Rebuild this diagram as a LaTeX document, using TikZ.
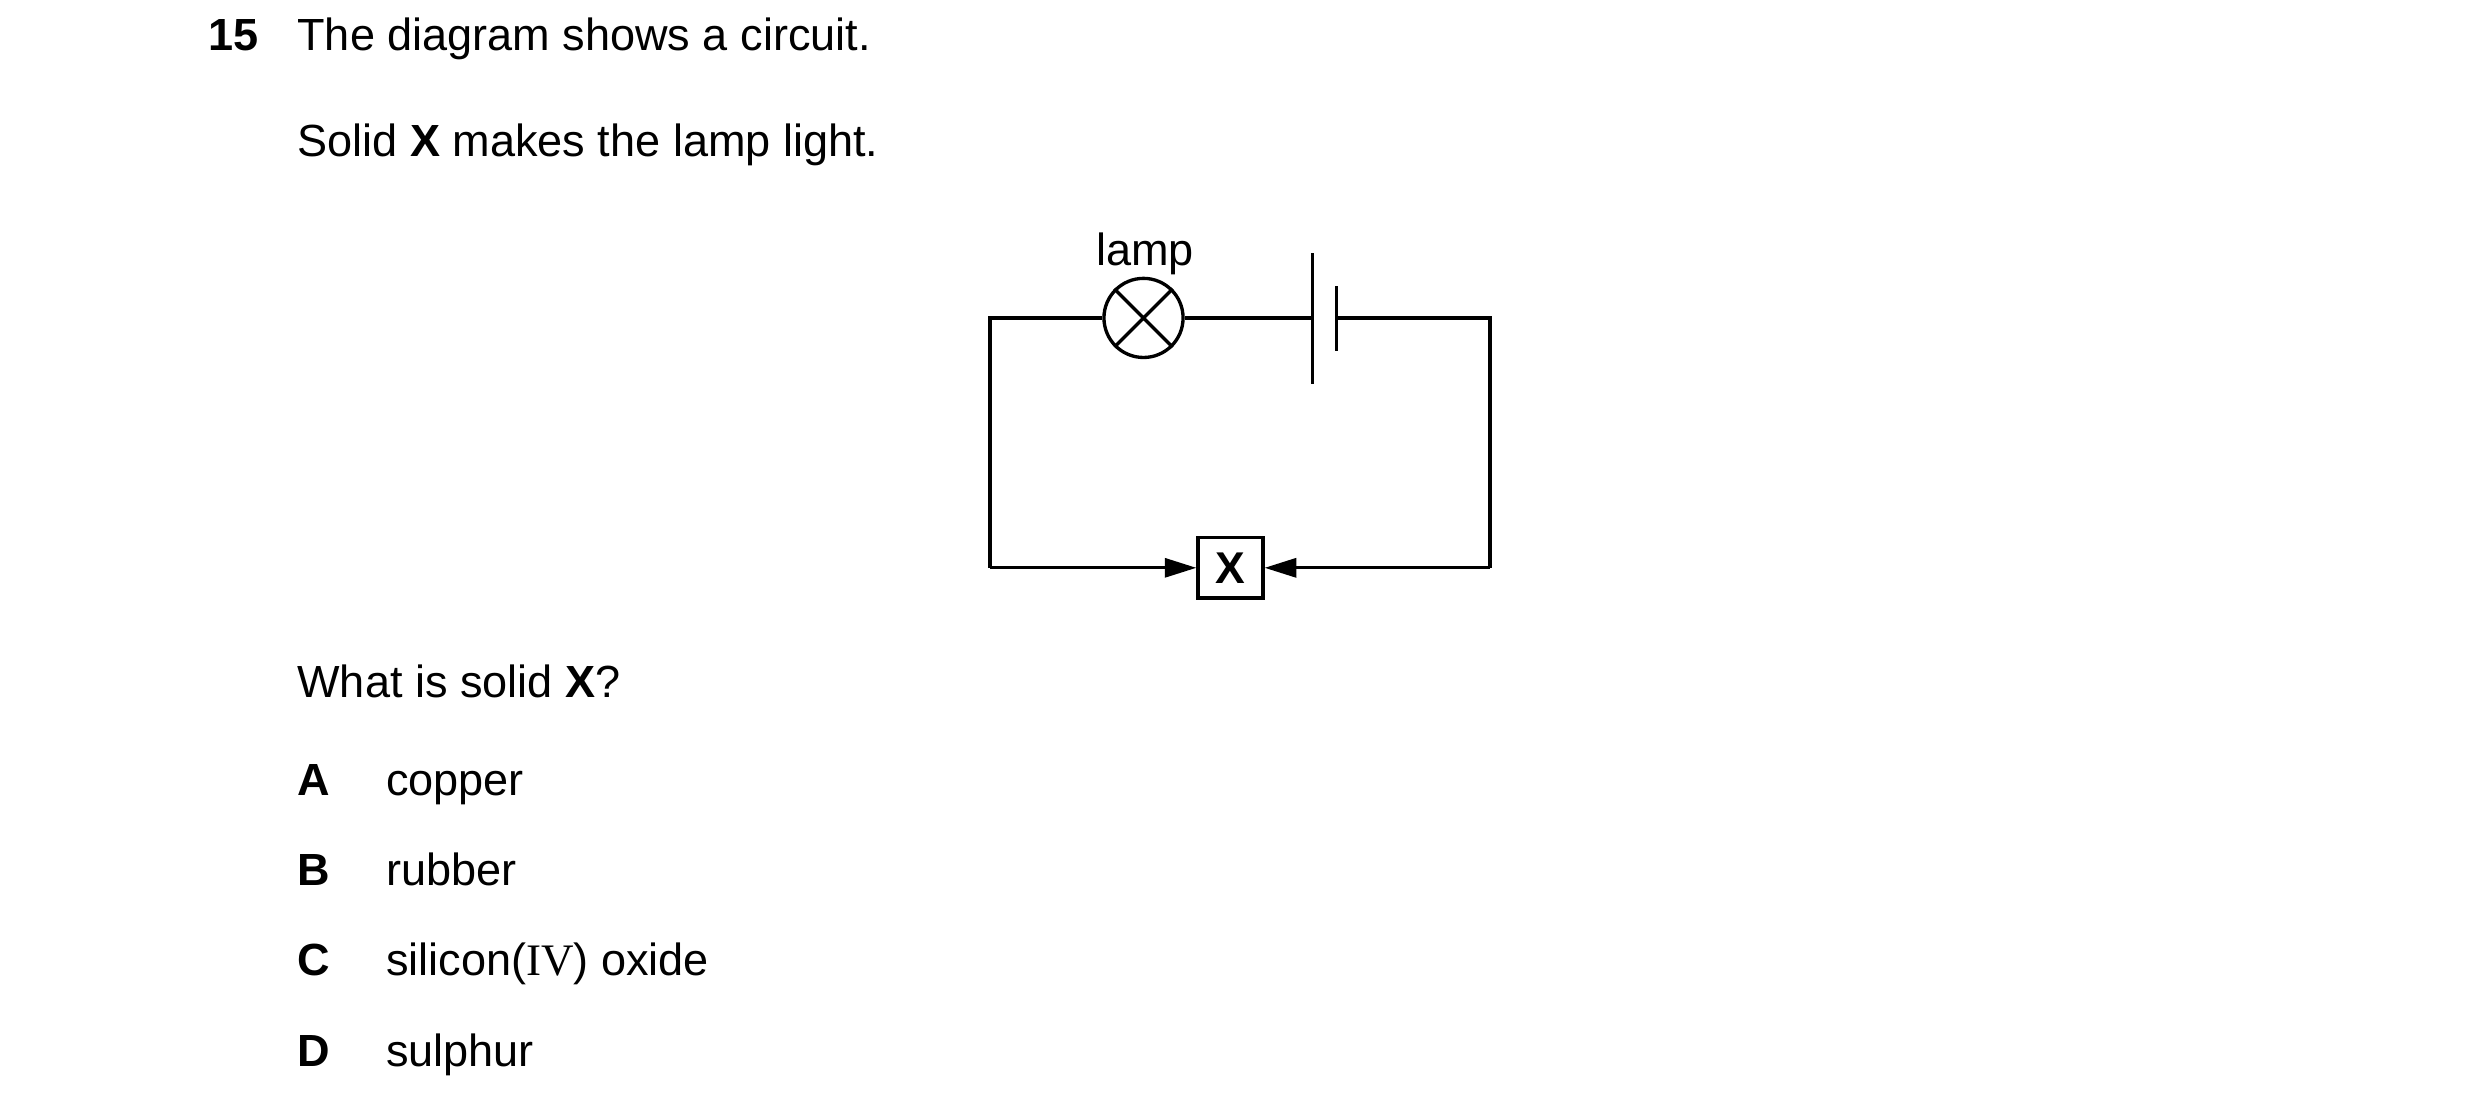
\documentclass[tikz,border=0pt]{standalone}
\usepackage{fontspec}
\setmainfont{Liberation Sans}
\newfontfamily\romfont{Liberation Serif}
\usetikzlibrary{arrows.meta,positioning,calc}

\begin{document}
\begin{tikzpicture}
[x=0.01cm,y=-0.01cm, line width=0.6pt,
txt/.style={anchor=base west,inner sep=0pt,font=\fontsize{8.1}{10}\selectfont},
tip/.style={-{Triangle[length=2mm,width=1.2mm]}}]
\useasboundingbox (0,0) rectangle (1568,705);

\node (num) at (131,32)[txt] {\textbf{15}};
\node (q1) at (187,32)[txt] {The diagram shows a circuit.};
\node (q2) at (187,99)[txt] {Solid \textbf{X} makes the lamp light.};
\node (q3) at (187,441)[txt] {What is solid \textbf{X}?};

\node (ka) at (187,503)[txt] {\textbf{A}};
\node (a) at (243,503)[txt] {copper};
\node (kb) at (187,560)[txt] {\textbf{B}};
\node (b) at (243,560)[txt] {rubber};
\node (kc) at (187,617)[txt] {\textbf{C}};
\node (c) at (243,617)[txt] {silicon({\romfont IV}) oxide};
\node (kd) at (187,674)[txt] {\textbf{D}};
\node (d) at (243,674)[txt] {sulphur};

% circuit
\node (lamp) at (723,201)[circle,draw,minimum size=0.5cm,inner sep=0pt] {};
\draw (lamp.45) -- (lamp.225) (lamp.135) -- (lamp.-45);
\node (lbl) at (724,168)[txt,anchor=base] {lamp};

\coordinate (tl) at (626,201);
\coordinate (tr) at (942,201);
\coordinate (bl) at (626,359);
\coordinate (br) at (942,359);
\coordinate (p1) at (830,201);
\coordinate (p2) at (845,201);

\draw (p1 |- 0,160) -- (p1 |- 0,243);
\draw (p2 |- 0,181) -- (p2 |- 0,222);

\node (x) at (778,359)[draw,minimum width=0.41cm,minimum height=0.38cm,inner sep=0pt,font=\fontsize{8}{10}\selectfont\bfseries] {X};

\draw (lamp.west) -- (tl) -- (bl);
\draw[tip] (bl) -- (x.west);
\draw (lamp.east) -- (p1);
\draw (p2) -- (tr) -- (br);
\draw[tip] (br) -- (x.east);
\end{tikzpicture}
\end{document}
